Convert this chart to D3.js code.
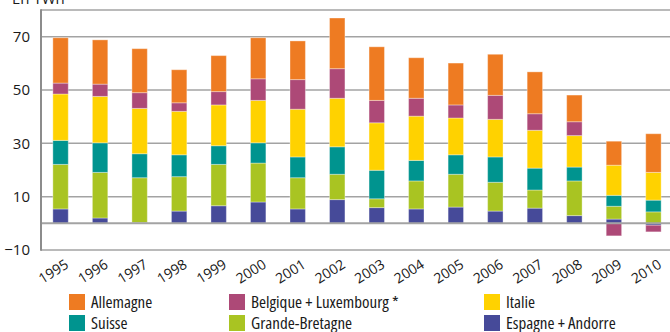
<!DOCTYPE html>
<html>
<head>
<meta charset="utf-8">
<script src="https://cdn.jsdelivr.net/npm/d3@7"></script>
<style>
  html, body { margin: 0; padding: 0; background: #fff; }
  svg { display: block; font-family: "Open Sans", "Noto Sans", sans-serif; }
</style>
</head>
<body>
<svg id="chart" width="670" height="332"></svg>
<script>
// Electricity exchange balance by country, in TWh
const years = ["1995","1996","1997","1998","1999","2000","2001","2002","2003","2004","2005","2006","2007","2008","2009","2010"];
const espagne   = [5.4, 2.0, 0.3, 4.6, 6.6, 8.0, 5.4, 8.9, 5.9, 5.4, 6.1, 4.6, 5.7, 2.9, 1.6, -0.7];
const grandeBretagne = [16.7, 17.1, 16.8, 12.9, 15.5, 14.6, 11.7, 9.5, 3.3, 10.5, 12.3, 10.8, 6.8, 13.0, 4.8, 4.3];
const suisse    = [9.0, 11.1, 9.0, 8.2, 7.0, 7.6, 7.8, 10.3, 10.7, 7.7, 7.3, 9.5, 8.2, 5.2, 4.1, 4.4];
const italie    = [17.4, 17.4, 17.0, 16.3, 15.3, 15.9, 17.9, 18.2, 17.8, 16.6, 13.8, 14.1, 14.2, 11.8, 11.3, 10.4];
const belgique  = [4.1, 4.6, 5.9, 3.2, 5.0, 8.1, 11.1, 11.1, 8.4, 6.7, 4.9, 9.0, 6.2, 5.2, -4.7, -2.5];
const allemagne = [17.0, 16.6, 16.5, 12.4, 13.5, 15.4, 14.5, 19.0, 20.1, 15.2, 15.7, 15.4, 15.7, 10.0, 9.0, 14.5];

const yTicks = [-10, 10, 30, 50, 70];
const seriesNames = ["Espagne + Andorre", "Grande-Bretagne", "Suisse", "Italie", "Belgique + Luxembourg *", "Allemagne"];
const seriesValues = [espagne, grandeBretagne, suisse, italie, belgique, allemagne];
const seriesColors = ["#464a99", "#a9c422", "#00948f", "#ffd200", "#ad4977", "#ee7b22"];
const legendOrder = ["Allemagne", "Belgique + Luxembourg *", "Italie", "Suisse", "Grande-Bretagne", "Espagne + Andorre"];
const unitLabel = "En TWh";

const svg = d3.select("#chart");
const margin = { left: 41, top: 10, right: -3, bottom: 82 };
const W = 670, H = 332;

const rows = years.map((y, i) => {
  const r = { year: y };
  seriesNames.forEach((n, k) => r[n] = seriesValues[k][i]);
  return r;
});

const x = d3.scaleBand().domain(years)
  .range([margin.left, W - margin.right])
  .paddingInner(0.61).paddingOuter(0.3);
const y = d3.scaleLinear().domain([-10, 80]).range([H - margin.bottom, margin.top]);

// grid
const gridVals = [80, ...yTicks];
svg.append("g").selectAll("line").data(gridVals).join("line")
  .attr("x1", margin.left).attr("x2", W)
  .attr("y1", d => y(d)).attr("y2", d => y(d))
  .attr("stroke", "#a3a3a3").attr("stroke-width", 1.5);

// y axis labels
const yAxis = d3.axisLeft(y).tickValues(yTicks).tickSize(0).tickPadding(11);
const gy = svg.append("g").attr("transform", `translate(${margin.left},0)`).call(yAxis);
gy.select(".domain").remove();
gy.selectAll("text").attr("font-size", 15).attr("fill", "#1a1a1a")
  .attr("font-family", "'Open Sans', sans-serif");

// bars
const stack = d3.stack().keys(seriesNames).offset(d3.stackOffsetDiverging);
const layers = stack(rows);
svg.append("g").selectAll("g").data(layers).join("g")
  .attr("fill", (d, i) => seriesColors[i])
  .selectAll("rect").data(d => d).join("rect")
  .attr("x", d => x(d.data.year))
  .attr("width", x.bandwidth())
  .attr("y", d => y(Math.max(d[0], d[1])))
  .attr("height", d => Math.abs(y(d[0]) - y(d[1])))
  .attr("stroke", "rgba(255,255,255,0.35)").attr("stroke-width", 1);

// zero line and left axis line
svg.append("line").attr("x1", margin.left).attr("x2", W)
  .attr("y1", y(0)).attr("y2", y(0))
  .attr("stroke", "#a3a3a3").attr("stroke-width", 2);
svg.append("line").attr("x1", margin.left).attr("x2", margin.left)
  .attr("y1", y(80) - 0.75).attr("y2", y(-10) + 0.75)
  .attr("stroke", "#8c8c8c").attr("stroke-width", 2);

// x axis labels
const xAxis = d3.axisBottom(x).tickSize(0).tickPadding(0);
const gx = svg.append("g").attr("transform", `translate(0,${y(-10)})`).call(xAxis);
gx.select(".domain").remove();
gx.selectAll("text")
  .attr("font-size", 14).attr("fill", "#1a1a1a")
  .attr("font-family", "'Open Sans', sans-serif")
  .attr("text-anchor", "end").attr("dy", 0)
  .attr("transform", "translate(9,17) rotate(-32)");

// unit label
svg.append("text").attr("x", 12).attr("y", 4).text(unitLabel)
  .attr("font-size", 15).attr("fill", "#1a1a1a");

// legend
const legCols = [69, 229, 484];
const legRows = [294, 315];
const leg = svg.append("g").selectAll("g").data(legendOrder).join("g")
  .attr("transform", (d, i) => `translate(${legCols[i % 3]},${legRows[Math.floor(i / 3)]})`);
leg.append("rect").attr("width", 16).attr("height", 16)
  .attr("fill", d => seriesColors[seriesNames.indexOf(d)]);
leg.append("text").attr("x", 22).attr("y", 14)
  .attr("font-size", 17).attr("fill", "#1a1a1a")
  .attr("font-family", "'Open Sans', sans-serif")
  .style("font-stretch", "87.5%")
  .text(d => d);
</script>
</body>
</html>
